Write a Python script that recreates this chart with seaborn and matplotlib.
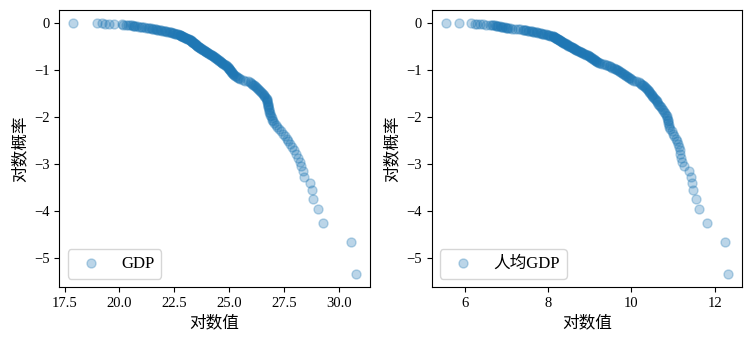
import numpy as np
import pandas as pd
import matplotlib
matplotlib.use("Agg")
import matplotlib.pyplot as plt
import seaborn as sns

# Log of GDP, sorted from largest to smallest (rank 1 first)
log_gdp = [
    30.77, 30.55, 29.27, 29.08, 28.82, 28.79, 28.70, 28.41, 28.36, 28.30,
    28.22, 28.14, 28.06, 27.98, 27.88, 27.80, 27.71, 27.63, 27.55, 27.45,
    27.36, 27.26, 27.18, 27.12, 27.06, 27.01, 26.97, 26.94, 26.91, 26.88,
    26.86, 26.84, 26.82, 26.80, 26.79, 26.78, 26.77, 26.76, 26.75, 26.74,
    26.73, 26.71, 26.67, 26.64, 26.61, 26.58, 26.54, 26.49, 26.45, 26.40,
    26.36, 26.32, 26.28, 26.24, 26.19, 26.14, 26.09, 26.05, 26.00, 25.94,
    25.85, 25.74, 25.62, 25.51, 25.46, 25.41, 25.36, 25.31, 25.26, 25.21,
    25.18, 25.16, 25.14, 25.12, 25.10, 25.08, 25.06, 25.04, 25.02, 25.00,
    24.98, 24.96, 24.93, 24.91, 24.88, 24.85, 24.82, 24.78, 24.74, 24.70,
    24.67, 24.64, 24.61, 24.58, 24.55, 24.52, 24.49, 24.46, 24.43, 24.40,
    24.37, 24.34, 24.31, 24.28, 24.25, 24.22, 24.19, 24.16, 24.12, 24.09,
    24.06, 24.03, 24.00, 23.97, 23.94, 23.91, 23.88, 23.85, 23.82, 23.79,
    23.77, 23.74, 23.71, 23.69, 23.66, 23.64, 23.62, 23.59, 23.57, 23.55,
    23.53, 23.51, 23.49, 23.47, 23.45, 23.43, 23.41, 23.39, 23.37, 23.35,
    23.33, 23.31, 23.29, 23.28, 23.26, 23.25, 23.23, 23.20, 23.17, 23.14,
    23.11, 23.08, 23.05, 23.02, 22.99, 22.96, 22.93, 22.90, 22.87, 22.84,
    22.82, 22.80, 22.78, 22.76, 22.74, 22.69, 22.64, 22.59, 22.54, 22.49,
    22.44, 22.39, 22.34, 22.29, 22.24, 22.19, 22.14, 22.08, 22.02, 21.96,
    21.90, 21.84, 21.78, 21.72, 21.66, 21.60, 21.54, 21.48, 21.42, 21.36,
    21.28, 21.20, 21.12, 21.04, 20.96, 20.88, 20.80, 20.72, 20.66, 20.60,
    20.55, 20.48, 20.40, 20.30, 20.18, 20.10, 19.76, 19.50, 19.36, 19.20,
    18.97, 17.90,
]

# Log of GDP per capita, sorted from largest to smallest (rank 1 first)
log_gdp_pc = [
    12.31, 12.23, 11.81, 11.62, 11.55, 11.47, 11.45, 11.43, 11.37, 11.27,
    11.20, 11.18, 11.17, 11.16, 11.15, 11.12, 11.09, 11.06, 11.03, 11.00,
    10.97, 10.93, 10.90, 10.89, 10.88, 10.88, 10.87, 10.86, 10.85, 10.83,
    10.81, 10.78, 10.76, 10.73, 10.71, 10.69, 10.66, 10.64, 10.62, 10.60,
    10.58, 10.56, 10.54, 10.52, 10.50, 10.48, 10.46, 10.44, 10.42, 10.41,
    10.39, 10.37, 10.35, 10.33, 10.31, 10.28, 10.26, 10.23, 10.20, 10.17,
    10.12, 10.07, 10.02, 9.99, 9.97, 9.94, 9.92, 9.90, 9.87, 9.85,
    9.82, 9.80, 9.78, 9.75, 9.73, 9.70, 9.68, 9.65, 9.62, 9.60,
    9.57, 9.54, 9.52, 9.49, 9.46, 9.42, 9.38, 9.34, 9.30, 9.25,
    9.22, 9.20, 9.18, 9.16, 9.14, 9.12, 9.10, 9.09, 9.07, 9.05,
    9.04, 9.02, 9.01, 8.99, 8.97, 8.95, 8.93, 8.91, 8.89, 8.87,
    8.84, 8.82, 8.80, 8.78, 8.76, 8.74, 8.72, 8.70, 8.68, 8.66,
    8.65, 8.63, 8.62, 8.60, 8.59, 8.57, 8.56, 8.54, 8.53, 8.51,
    8.49, 8.48, 8.46, 8.45, 8.43, 8.41, 8.40, 8.38, 8.36, 8.35,
    8.34, 8.33, 8.31, 8.30, 8.29, 8.28, 8.27, 8.26, 8.24, 8.23,
    8.22, 8.21, 8.20, 8.18, 8.17, 8.16, 8.15, 8.14, 8.12, 8.11,
    8.08, 8.05, 8.03, 8.00, 7.97, 7.94, 7.91, 7.88, 7.85, 7.83,
    7.80, 7.77, 7.74, 7.71, 7.67, 7.64, 7.61, 7.58, 7.55, 7.51,
    7.48, 7.45, 7.42, 7.39, 7.33, 7.27, 7.20, 7.14, 7.08, 7.05,
    7.02, 6.99, 6.96, 6.93, 6.90, 6.87, 6.84, 6.81, 6.78, 6.75,
    6.72, 6.69, 6.66, 6.60, 6.52, 6.44, 6.37, 6.30, 6.24, 6.16,
    5.87, 5.55,
]

series_labels = ["GDP", "人均GDP"]
x_label = "对数值"
y_label = "对数概率"

plt.rcParams["font.family"] = ["Liberation Serif", "Noto Sans CJK SC", "DejaVu Sans"]
plt.rcParams["axes.unicode_minus"] = True

def rank_size_frame(values):
    """Empirical log exceedance probability: log(rank / n), rank 1 = largest."""
    v = np.sort(np.asarray(values))[::-1]
    n = len(v)
    ranks = np.arange(1, n + 1)
    return pd.DataFrame({"log_value": v, "log_prob": np.log(ranks / n)})

fig, axes = plt.subplots(1, 2, figsize=(7.51, 3.46), dpi=100)
fig.subplots_adjust(left=0.079, right=0.988, bottom=0.171, top=0.970, wspace=0.2)

color = "#1f77b4"
for ax, values, label in zip(axes, [log_gdp, log_gdp_pc], series_labels):
    df = rank_size_frame(values)
    sns.scatterplot(data=df, x="log_value", y="log_prob", ax=ax,
                    color=color, edgecolor=color, linewidth=1.0,
                    s=42, alpha=0.3, label=label)
    ax.set_xlabel(x_label, fontsize=12)
    ax.set_ylabel(y_label, fontsize=12)
    ax.tick_params(labelsize=10.5)
    ax.legend(loc="lower left", fontsize=12)

fig.savefig("out.png", dpi=100)
